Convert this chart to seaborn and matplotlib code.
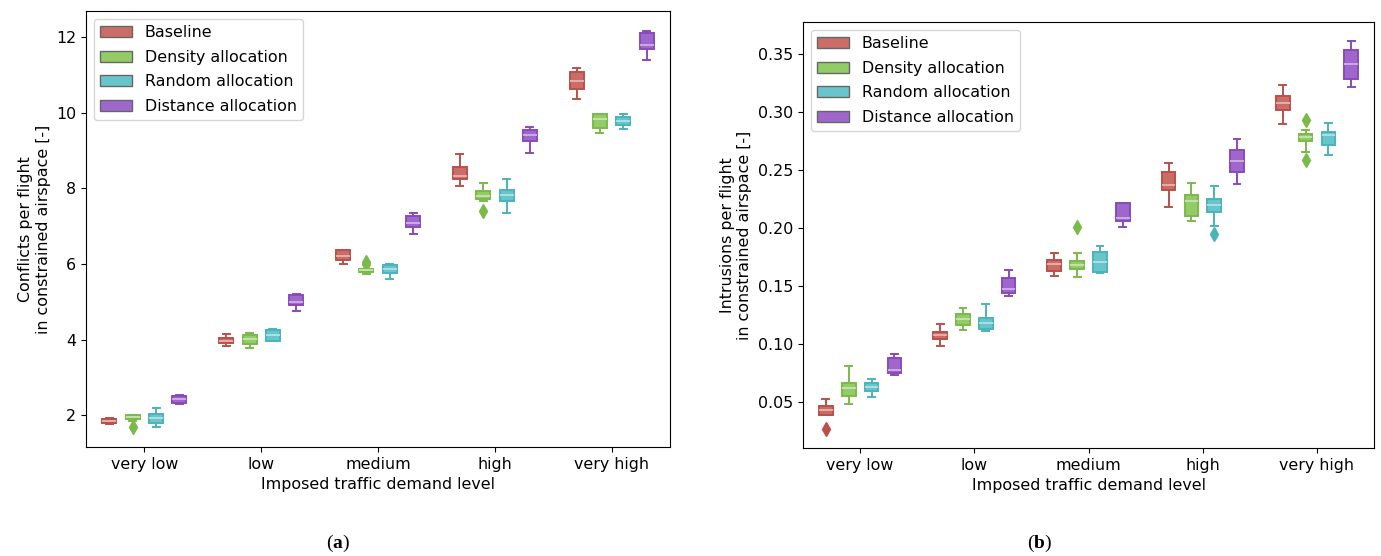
import matplotlib
matplotlib.use("Agg")
import matplotlib.pyplot as plt
import pandas as pd
import seaborn as sns
from matplotlib.patches import Patch

levels = ["very low", "low", "medium", "high", "very high"]
methods = ["Baseline", "Density allocation", "Random allocation", "Distance allocation"]

conflicts_baseline = [
    [1.78, 1.79, 1.80, 1.83, 1.86, 1.89, 1.92, 1.925, 1.93],
    [3.83, 3.87, 3.91, 3.95, 3.98, 4.01, 4.05, 4.10, 4.16],
    [6.01, 6.07, 6.12, 6.18, 6.22, 6.28, 6.36, 6.36, 6.37],
    [8.06, 8.15, 8.26, 8.30, 8.34, 8.45, 8.56, 8.75, 8.91],
    [10.37, 10.50, 10.62, 10.72, 10.83, 10.95, 11.07, 11.12, 11.18],
]
conflicts_density = [
    [1.70, 1.86, 1.91, 1.93, 1.95, 1.97, 2.00, 2.01, 2.02],
    [3.78, 3.84, 3.89, 3.95, 4.01, 4.07, 4.13, 4.16, 4.19],
    [5.75, 5.78, 5.80, 5.82, 5.84, 5.86, 5.87, 6.01, 6.05],
    [7.39, 7.67, 7.73, 7.76, 7.80, 7.86, 7.92, 8.03, 8.14],
    [9.47, 9.53, 9.59, 9.72, 9.84, 9.90, 9.96, 9.96, 9.97],
]
conflicts_random = [
    [1.69, 1.75, 1.81, 1.88, 1.94, 2.00, 2.05, 2.12, 2.20],
    [3.96, 3.96, 3.96, 4.05, 4.13, 4.19, 4.25, 4.27, 4.29],
    [5.61, 5.70, 5.77, 5.82, 5.87, 5.92, 5.97, 5.99, 6.01],
    [7.36, 7.50, 7.66, 7.74, 7.82, 7.88, 7.95, 8.10, 8.26],
    [9.56, 9.62, 9.68, 9.74, 9.79, 9.84, 9.89, 9.93, 9.96],
]
conflicts_distance = [
    [2.31, 2.31, 2.33, 2.38, 2.43, 2.48, 2.52, 2.53, 2.54],
    [4.75, 4.83, 4.91, 4.95, 5.00, 5.08, 5.17, 5.20, 5.22],
    [6.80, 6.90, 6.98, 7.03, 7.08, 7.17, 7.26, 7.31, 7.36],
    [8.93, 9.10, 9.25, 9.33, 9.40, 9.47, 9.53, 9.58, 9.62],
    [11.40, 11.55, 11.67, 11.73, 11.80, 11.95, 12.11, 12.14, 12.16],
]

intrusions_baseline = [
    [0.0268, 0.0388, 0.0388, 0.0410, 0.0429, 0.0445, 0.0462, 0.0495, 0.0527],
    [0.0980, 0.1010, 0.1038, 0.1055, 0.1072, 0.1088, 0.1104, 0.1140, 0.1173],
    [0.1583, 0.1605, 0.1626, 0.1655, 0.1683, 0.1700, 0.1724, 0.1750, 0.1781],
    [0.2180, 0.2250, 0.2329, 0.2350, 0.2366, 0.2420, 0.2484, 0.2520, 0.2559],
    [0.2897, 0.2960, 0.3018, 0.3050, 0.3076, 0.3110, 0.3138, 0.3180, 0.3230],
]
intrusions_density = [
    [0.0484, 0.0520, 0.0550, 0.0590, 0.0621, 0.0640, 0.0659, 0.0730, 0.0808],
    [0.1118, 0.1140, 0.1158, 0.1185, 0.1210, 0.1235, 0.1259, 0.1280, 0.1305],
    [0.1574, 0.1610, 0.1646, 0.1660, 0.1678, 0.1695, 0.1712, 0.1780, 0.2005],
    [0.2062, 0.2080, 0.2099, 0.2170, 0.2234, 0.2260, 0.2280, 0.2330, 0.2389],
    [0.2581, 0.2650, 0.2745, 0.2765, 0.2783, 0.2797, 0.2811, 0.2846, 0.2926],
]
intrusions_random = [
    [0.0544, 0.0570, 0.0593, 0.0612, 0.0630, 0.0645, 0.0659, 0.0675, 0.0693],
    [0.1109, 0.1120, 0.1130, 0.1150, 0.1175, 0.1200, 0.1224, 0.1280, 0.1339],
    [0.1606, 0.1612, 0.1617, 0.1660, 0.1707, 0.1750, 0.1793, 0.1815, 0.1841],
    [0.1945, 0.2013, 0.2134, 0.2165, 0.2195, 0.2220, 0.2249, 0.2300, 0.2357],
    [0.2628, 0.2670, 0.2716, 0.2760, 0.2803, 0.2815, 0.2828, 0.2865, 0.2903],
]
intrusions_distance = [
    [0.0730, 0.0738, 0.0745, 0.0760, 0.0773, 0.0825, 0.0880, 0.0895, 0.0908],
    [0.1410, 0.1420, 0.1434, 0.1455, 0.1474, 0.1520, 0.1565, 0.1600, 0.1634],
    [0.2002, 0.2030, 0.2054, 0.2070, 0.2086, 0.2150, 0.2217, 0.2217, 0.2217],
    [0.2381, 0.2430, 0.2478, 0.2525, 0.2573, 0.2620, 0.2673, 0.2720, 0.2766],
    [0.3213, 0.3250, 0.3282, 0.3345, 0.3411, 0.3470, 0.3534, 0.3570, 0.3606],
]

plt.rcParams["font.size"] = 11.4
plt.rcParams["mathtext.fontset"] = "custom"
plt.rcParams["mathtext.rm"] = "Liberation Serif"
plt.rcParams["mathtext.bf"] = "Liberation Serif:bold"

base = sns.color_palette("hls", len(methods))
fill = [sns.desaturate(c, 0.75) for c in base]
# outlines/whiskers a shade darker than the fill, as in the figure
line_colours = {m: tuple(0.85 * v for v in c) for m, c in zip(methods, base)}
median_colours = {m: tuple(0.55 * v + 0.45 for v in c) for m, c in zip(methods, fill)}


def to_frame(samples):
    rows = []
    for method, per_level in zip(methods, samples):
        for level, vals in zip(levels, per_level):
            rows += [(level, method, v) for v in vals]
    return pd.DataFrame(rows, columns=["level", "method", "value"])


def draw_panel(ax, df, ylabel):
    for method in methods:
        colour = line_colours[method]
        sns.boxplot(
            data=df[df["method"] == method], x="level", y="value", hue="method",
            order=levels, hue_order=methods, palette=base, dodge=True,
            width=0.8, gap=0.4, linecolor=colour, linewidth=1.4, legend=False,
            flierprops=dict(marker="d", markerfacecolor=colour, markeredgecolor=colour, markersize=7),
            medianprops=dict(color=median_colours[method]),
            ax=ax,
        )
    handles = [Patch(facecolor=c, edgecolor="0.4", label=m) for m, c in zip(methods, fill)]
    ax.legend(handles=handles, loc="upper left", labelspacing=0.6)
    ax.set_xlabel("Imposed traffic demand level")
    ax.set_ylabel(ylabel)


fig = plt.figure(figsize=(13.81, 5.56), dpi=100)
ax_a = fig.add_axes([0.0623, 0.196, 0.4229, 0.784])
ax_b = fig.add_axes([0.5815, 0.1942, 0.4135, 0.7662])

draw_panel(ax_a, to_frame([conflicts_baseline, conflicts_density, conflicts_random, conflicts_distance]),
           "Conflicts per flight\nin constrained airspace [-]")
draw_panel(ax_b, to_frame([intrusions_baseline, intrusions_density, intrusions_random, intrusions_distance]),
           "Intrusions per flight\nin constrained airspace [-]")
ax_a.set_yticks([2, 4, 6, 8, 10, 12])

fig.text(338 / 1381, 1 - 543 / 556, r"($\mathbf{a}$)", ha="center", va="center",
         family="Liberation Serif", fontsize=14)
fig.text(1040 / 1381, 1 - 543 / 556, r"($\mathbf{b}$)", ha="center", va="center",
         family="Liberation Serif", fontsize=14)

fig.savefig("out.png", dpi=100)
